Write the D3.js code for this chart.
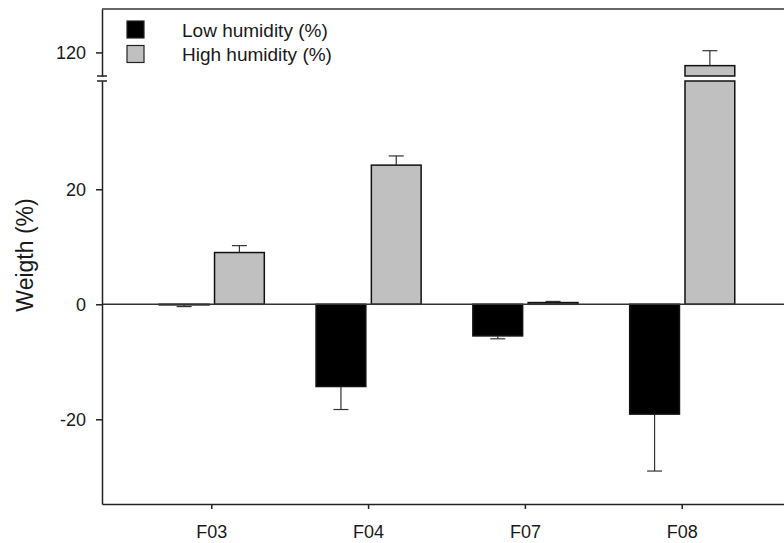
<!DOCTYPE html>
<html>
<head>
<meta charset="utf-8">
<script src="https://cdn.jsdelivr.net/npm/d3@7"></script>
<style>
  body { margin: 0; background: #fff; }
  svg { display: block; font-family: Arial, "Liberation Sans", sans-serif; }
</style>
</head>
<body>
<div id="chart"></div>
<script>
// data
const categories = ["F03", "F04", "F07", "F08"]
const series = ["Low humidity (%)", "High humidity (%)"]
const lowValues = [-0.1, -14.3, -5.5, -19.1]
const lowErrors = [0.3, 4.0, 0.5, 9.9]
const highValues = [9.0, 24.2, 0.3, 117.7]
const highErrors = [1.2, 1.6, 0.2, 2.6]
const lowTicks = [-20, 0, 20]
const highTicks = [120]

const width = 784, height = 543
const plotLeft = 102, plotTop = 9, plotBottom = 504, plotRight = 792
const breakLow = 81, breakHigh = 76

const svg = d3.select("#chart").append("svg")
    .attr("width", width)
    .attr("height", height)

const x = d3.scaleBand()
    .domain(categories)
    .range([plotLeft, plotRight])
    .paddingOuter(0.2)
const xs = d3.scaleBand()
    .domain(series)
    .range([-x.bandwidth() / 2 * 0.67, x.bandwidth() / 2 * 0.67])
    .paddingInner(0.1)

// broken y axis: same units per pixel on both parts
const yLow = d3.scaleLinear().domain([-34.73, 38.83]).range([plotBottom, breakLow])
const yHigh = d3.scaleLinear().domain([115.9, 127.55]).range([breakHigh, plotTop])

const rows = []
categories.forEach((c, i) => {
  rows.push({cat: c, s: series[0], v: lowValues[i], e: lowErrors[i]})
  rows.push({cat: c, s: series[1], v: highValues[i], e: highErrors[i]})
})
const fill = d3.scaleOrdinal().domain(series).range(["#000000", "#c0c0c0"])
const bx = d => x(d.cat) + x.bandwidth() / 2 + xs(d.s)

// bars (split ones drawn in two pieces)
const bars = svg.append("g").attr("stroke", "#111").attr("stroke-width", 1.5)
rows.forEach(d => {
  if (d.v > yLow.domain()[1]) {
    bars.append("rect")
        .attr("x", bx(d)).attr("width", xs.bandwidth())
        .attr("y", yLow(yLow.domain()[1]))
        .attr("height", yLow(0) - yLow(yLow.domain()[1]))
        .attr("fill", fill(d.s))
    bars.append("rect")
        .attr("x", bx(d)).attr("width", xs.bandwidth())
        .attr("y", yHigh(d.v))
        .attr("height", yHigh(yHigh.domain()[0]) - yHigh(d.v))
        .attr("fill", fill(d.s))
  } else {
    bars.append("rect")
        .attr("x", bx(d)).attr("width", xs.bandwidth())
        .attr("y", yLow(Math.max(0, d.v)))
        .attr("height", Math.abs(yLow(d.v) - yLow(0)))
        .attr("fill", fill(d.s))
  }
})

// error bars, one sided
const err = svg.append("g").attr("stroke", "#333").attr("stroke-width", 1.2)
rows.forEach(d => {
  const y = d.v > yLow.domain()[1] ? yHigh : yLow
  const cx = bx(d) + xs.bandwidth() / 2
  const end = d.v < 0 ? d.v - d.e : d.v + d.e
  err.append("line").attr("x1", cx).attr("x2", cx).attr("y1", y(d.v)).attr("y2", y(end))
  err.append("line").attr("x1", cx - 7.5).attr("x2", cx + 7.5).attr("y1", y(end)).attr("y2", y(end))
})

// zero line
svg.append("line")
    .attr("x1", plotLeft).attr("x2", plotRight)
    .attr("y1", yLow(0)).attr("y2", yLow(0))
    .attr("stroke", "#333").attr("stroke-width", 1.5)

// top frame
svg.append("line")
    .attr("x1", plotLeft).attr("x2", plotRight)
    .attr("y1", plotTop).attr("y2", plotTop)
    .attr("stroke", "#333").attr("stroke-width", 1.5)

function styleAxis(g) {
  g.select(".domain").attr("stroke", "#222").attr("stroke-width", 1.5)
  g.selectAll(".tick line").attr("stroke", "#222").attr("stroke-width", 1.5)
  g.selectAll(".tick text").attr("fill", "#1a1a1a").style("font-size", "18px")
}

svg.append("g")
    .attr("transform", `translate(${plotLeft},0)`)
    .call(d3.axisLeft(yLow).tickValues(lowTicks).tickFormat(d => String(d))
      .tickSize(6).tickPadding(10).tickSizeOuter(0))
    .call(styleAxis)
svg.append("g")
    .attr("transform", `translate(${plotLeft},0)`)
    .call(d3.axisLeft(yHigh).tickValues(highTicks).tickFormat(d => String(d))
      .tickSize(6).tickPadding(10).tickSizeOuter(0))
    .call(styleAxis)

// break marks
svg.append("g").attr("stroke", "#222").attr("stroke-width", 1.5)
  .selectAll("line").data([breakHigh, breakLow]).join("line")
    .attr("x1", plotLeft - 5).attr("x2", plotLeft + 5)
    .attr("y1", d => d).attr("y2", d => d)

svg.append("g")
    .attr("transform", `translate(0,${plotBottom})`)
    .call(d3.axisBottom(x).tickSize(5).tickPadding(16).tickSizeOuter(0))
    .call(styleAxis)

// y title
svg.append("text")
    .attr("transform", `translate(33,255) rotate(-90)`)
    .attr("text-anchor", "middle")
    .attr("fill", "#1a1a1a")
    .style("font-size", "23px")
    .text("Weigth (%)")

// legend
const legend = svg.append("g")
    .selectAll("g").data(series).join("g")
    .attr("transform", (d, i) => `translate(127,${21 + i * 24.5})`)
legend.append("rect")
    .attr("width", 17).attr("height", 17)
    .attr("fill", d => fill(d))
    .attr("stroke", "#222").attr("stroke-width", 1.2)
legend.append("text")
    .attr("x", 55).attr("y", 15.5)
    .attr("fill", "#1a1a1a")
    .style("font-size", "19px")
    .text(d => d)
</script>
</body>
</html>
